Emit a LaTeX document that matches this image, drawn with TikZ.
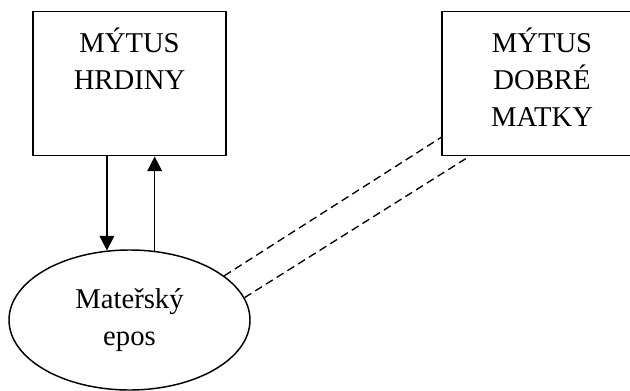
\documentclass[tikz,border=0pt]{standalone}
\usepackage{fontspec}
\setmainfont{Liberation Serif}
\usepackage{tikz}
\usetikzlibrary{arrows.meta,positioning,shapes.geometric}
\tikzset{
  mythbox/.style={draw,line width=1.1pt,inner sep=0pt,anchor=north,
    minimum width=144.75pt,text width=144.75pt,align=center,
    text height=30.75pt,text depth=77.25pt},
  eposnode/.style={draw,ellipse,line width=1.1pt,inner sep=0pt,
    minimum width=180.75pt,minimum height=105pt,align=center},
  flow/.style={line width=1.1pt,-{Triangle[length=11pt,width=11pt]}},
  link/.style={line width=1pt,dash pattern=on 6pt off 3.5pt}
}

\begin{document}
\begin{tikzpicture}[x=0.75pt,y=-0.75pt,
    every node/.style={font=\fontsize{21.5}{27.8}\selectfont}]
    \useasboundingbox (0,0) rectangle (630,391);
    \node[mythbox] (hrdina) at (129.5,11) {MÝTUS\\HRDINY};
    % right edge falls outside the page
    \node[mythbox,minimum width=150pt] (matka) at (542,11) {MÝTUS\\DOBRÉ\\MATKY};
    \node[eposnode] (epos) at (129.5,320) {Mateřský\\epos};

    \draw[flow] (hrdina.south -| epos.108.9) -- (epos.108.9);
    \draw[flow] (epos.70.3) -- (hrdina.south -| epos.70.3);

    \draw[link] (epos.25.5) -- (matka.208.5);
    \draw[link] (epos.11.4) -- (matka.225.5);
  \end{tikzpicture}
\end{document}
